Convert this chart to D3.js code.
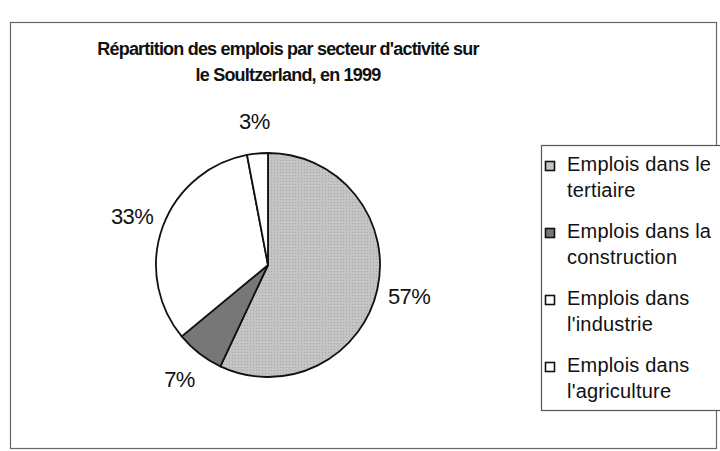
<!DOCTYPE html>
<html><head><meta charset="utf-8">
<script src="https://cdn.jsdelivr.net/npm/d3@7"></script>
<style>body{margin:0;background:#fff}svg{display:block}text{font-family:"Liberation Sans",Arial,sans-serif;fill:#111}</style>
</head><body><svg id="c" width="720" height="451"></svg>
<script>
const titleLines = ["Répartition des emplois par secteur d'activité sur", "le Soultzerland, en 1999"];
const categories = ["Emplois dans le tertiaire", "Emplois dans la construction", "Emplois dans l'industrie", "Emplois dans l'agriculture"];
const legendLines = [["Emplois dans le", "tertiaire"], ["Emplois dans la", "construction"], ["Emplois dans", "l'industrie"], ["Emplois dans", "l'agriculture"]];
const values = [57, 7, 33, 3];
const colors = ["#c4c4c4", "#777777", "#ffffff", "#ffffff"];

const svg = d3.select("#c");
// frame
svg.append("rect").attr("x", 10.5).attr("y", 22.5).attr("width", 706).attr("height", 426)
  .attr("fill", "none").attr("stroke", "#666").attr("stroke-width", 1.2);

// title
svg.append("g").selectAll("text").data(titleLines).join("text")
  .attr("x", 288).attr("y", (d, i) => 55 + i * 26)
  .attr("text-anchor", "middle").attr("font-weight", "bold").attr("font-size", 18)
  .attr("letter-spacing", -0.8).text(d => d);

// pattern for tertiaire
const defs = svg.append("defs");
const pat = defs.append("pattern").attr("id", "dots").attr("width", 3).attr("height", 3).attr("patternUnits", "userSpaceOnUse");
pat.append("rect").attr("width", 3).attr("height", 3).attr("fill", colors[0]);
pat.append("rect").attr("width", 1).attr("height", 1).attr("fill", "#a8a8a8");

const cx = 268, cy = 265, r = 112;
const pie = d3.pie().sort(null).value(d => d);
const arcs = pie(values);
const arc = d3.arc().innerRadius(0).outerRadius(r);
const g = svg.append("g").attr("transform", `translate(${cx},${cy})`);
g.selectAll("path").data(arcs).join("path")
  .attr("d", arc)
  .attr("fill", (d, i) => i === 0 ? "url(#dots)" : colors[i])
  .attr("stroke", "#111").attr("stroke-width", 1.8).attr("stroke-linejoin", "round");

// labels
const labelArc = d3.arc().innerRadius(r * 1.29).outerRadius(r * 1.29);
g.selectAll("text.lbl").data(arcs).join("text").attr("class", "lbl")
  .attr("x", d => labelArc.centroid(d)[0]).attr("y", d => labelArc.centroid(d)[1])
  .attr("dy", "0.36em")
  .attr("text-anchor", "middle").attr("font-size", 22).attr("letter-spacing", -0.6)
  .text(d => d.data + "%");

// legend
const lg = svg.append("g");
lg.append("rect").attr("x", 541.5).attr("y", 145.5).attr("width", 190).attr("height", 265)
  .attr("fill", "#fff").attr("stroke", "#555").attr("stroke-width", 1.2);
const item = lg.selectAll("g.it").data(categories).join("g").attr("class", "it")
  .attr("transform", (d, i) => `translate(0,${171 + i * 67})`);
item.append("rect").attr("x", 545.5).attr("y", -9.5).attr("width", 9).attr("height", 9)
  .attr("fill", (d, i) => colors[i])
  .attr("stroke", "#111").attr("stroke-width", 1.6);
item.each(function (d, i) {
  d3.select(this).selectAll("text").data(legendLines[i]).join("text")
    .attr("x", 567).attr("y", (t, j) => j * 26)
    .attr("font-size", 20).attr("letter-spacing", 0.2).text(t => t);
});
</script></body></html>
